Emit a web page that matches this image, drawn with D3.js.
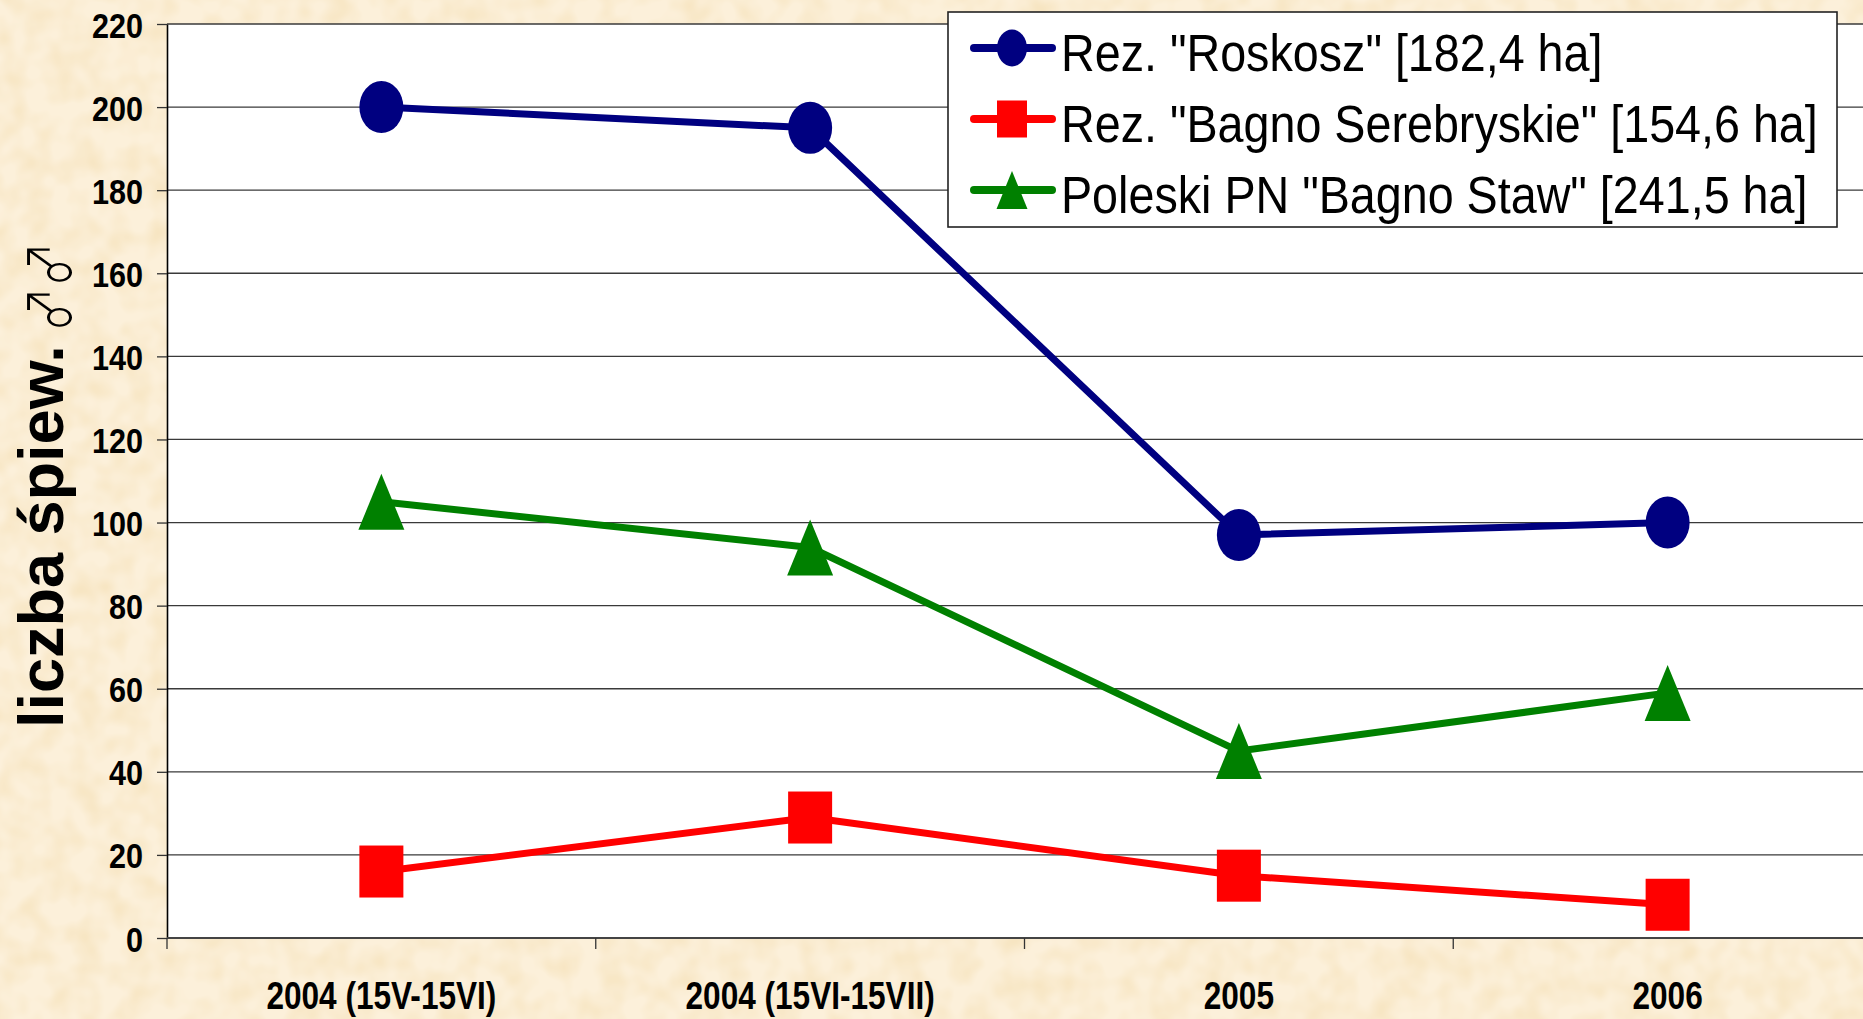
<!DOCTYPE html>
<html lang="pl">
<head>
<meta charset="UTF-8">
<title>Liczba śpiewających samców</title>
<script src="https://d3js.org/d3.v7.min.js"></script>
<style>
  html, body { margin: 0; padding: 0; background: #fbedd3; }
  svg { display: block; }
  text { font-family: "Liberation Sans", Arial, sans-serif; }
</style>
</head>
<body>
<svg width="1863" height="1019"></svg>
<script>
// dane
const categories = ["2004 (15V-15VI)", "2004 (15VI-15VII)", "2005", "2006"];
const seriesNames = [
  'Rez. "Roskosz" [182,4 ha]',
  'Rez. "Bagno Serebryskie" [154,6 ha]',
  'Poleski PN "Bagno Staw" [241,5 ha]'
];
const roskosz = [200, 195, 97, 100];
const serebryskie = [16, 29, 15, 8];
const bagnoStaw = [105, 94, 45, 59];
const yTicks = [0, 20, 40, 60, 80, 100, 120, 140, 160, 180, 200, 220];
const yLabel = "liczba śpiew.";
const maleSign = "♂♂";

const series = [
  { name: seriesNames[0], values: roskosz, color: "#000080", shape: "ellipse" },
  { name: seriesNames[1], values: serebryskie, color: "#ff0000", shape: "square" },
  { name: seriesNames[2], values: bagnoStaw, color: "#008000", shape: "triangle" }
];

const svg = d3.select("svg");
const W = 1863, H = 1019;
const pLeft = 167, pTop = 24, pBottom = 938, pRight = 1882;

// tło w stylu papieru
const defs = svg.append("defs");
const f = defs.append("filter").attr("id", "paper")
  .attr("x", 0).attr("y", 0).attr("width", "100%").attr("height", "100%")
  .attr("color-interpolation-filters", "sRGB");
f.append("feTurbulence").attr("type", "fractalNoise")
  .attr("baseFrequency", "0.04").attr("numOctaves", 2).attr("seed", 7);
f.append("feColorMatrix").attr("type", "matrix")
  .attr("values", "0 0 0 0 0.96  0 0 0 0 0.88  0 0 0 0 0.72  0 0 0 1.3 -0.45");
svg.append("rect").attr("width", W).attr("height", H).attr("fill", "#fcf0da");
svg.append("rect").attr("width", W).attr("height", H).attr("filter", "url(#paper)");

const x = d3.scaleBand().domain(categories).range([pLeft, pRight]);
const y = d3.scaleLinear().domain([0, 220]).range([pBottom, pTop]);
const cx = c => x(c) + x.bandwidth() / 2;

// obszar wykresu
svg.append("rect").attr("x", pLeft).attr("y", pTop)
  .attr("width", pRight - pLeft).attr("height", pBottom - pTop).attr("fill", "#fff");

svg.append("g").selectAll("line").data(yTicks.filter(d => d > 0)).join("line")
  .attr("x1", pLeft).attr("x2", pRight)
  .attr("y1", d => y(d)).attr("y2", d => y(d))
  .attr("stroke", "#3a3a3a").attr("stroke-width", 1.3);

// oś Y
const yAxis = svg.append("g").attr("transform", `translate(${pLeft},0)`)
  .call(d3.axisLeft(y).tickValues(yTicks).tickSize(10).tickSizeOuter(0));
yAxis.select(".domain").attr("stroke", "#000").attr("stroke-width", 1.6);
yAxis.selectAll(".tick line").attr("stroke", "#333").attr("stroke-width", 1.3);
yAxis.selectAll(".tick text")
  .attr("x", null).attr("dy", null).attr("y", 13)
  .attr("transform", "translate(-24,0) scale(0.85,1)")
  .attr("text-anchor", "end")
  .style("font-family", "'Liberation Sans', Arial, sans-serif")
  .style("font-size", "36px").style("font-weight", "bold").attr("fill", "#000");

// oś X
svg.append("line").attr("x1", pLeft).attr("x2", pRight)
  .attr("y1", pBottom).attr("y2", pBottom)
  .attr("stroke", "#444").attr("stroke-width", 2);
svg.append("g").selectAll("line").data(categories).join("line")
  .attr("x1", d => x(d)).attr("x2", d => x(d))
  .attr("y1", pBottom).attr("y2", pBottom + 11)
  .attr("stroke", "#333").attr("stroke-width", 1.3);
svg.append("g").selectAll("text").data(categories).join("text")
  .attr("transform", d => `translate(${cx(d)},1009) scale(0.81,1)`)
  .attr("text-anchor", "middle")
  .style("font-size", "39px").style("font-weight", "bold")
  .text(d => d);

// tytuł osi Y
const yl = svg.append("g").attr("transform", "translate(63,728) rotate(-90)");
yl.append("text").attr("x", 0).attr("y", 0)
  .style("font-size", "63px").style("font-weight", "bold")
  .text(yLabel);
yl.append("text")
  .attr("transform", "translate(486,9) scale(0.75,1)")
  .attr("text-anchor", "end")
  .style("font-family", "'Noto Sans CJK JP', 'DejaVu Sans', sans-serif")
  .style("font-size", "60px").style("font-weight", "300")
  .text(maleSign);

// znaczniki
function marker(sel, shape, color, w, h) {
  if (shape === "ellipse") {
    sel.append("ellipse").attr("rx", w / 2).attr("ry", h / 2).attr("fill", color);
  } else if (shape === "square") {
    sel.append("rect").attr("x", -w / 2).attr("y", -h / 2)
      .attr("width", w).attr("height", h).attr("fill", color);
  } else {
    sel.append("path")
      .attr("d", `M0,${-h / 2}L${w / 2},${h / 2}L${-w / 2},${h / 2}Z`)
      .attr("fill", color);
  }
}

const line = d3.line().x((d, i) => cx(categories[i])).y(d => y(d));

series.forEach(s => {
  const g = svg.append("g");
  g.append("path").attr("d", line(s.values))
    .attr("fill", "none").attr("stroke", s.color)
    .attr("stroke-width", 7).attr("stroke-linejoin", "round");
  s.values.forEach((v, i) => {
    const m = g.append("g").attr("transform", `translate(${cx(categories[i])},${y(v)})`);
    if (s.shape === "triangle") marker(m, s.shape, s.color, 46, 56);
    else marker(m, s.shape, s.color, 44, 52);
  });
});

// legenda
const lg = svg.append("g");
lg.append("rect").attr("x", 948).attr("y", 12).attr("width", 889).attr("height", 215)
  .attr("fill", "#fff").attr("stroke", "#222").attr("stroke-width", 1.6);
series.forEach((s, i) => {
  const ry = 48 + i * 71;
  lg.append("line").attr("x1", 974).attr("x2", 1052).attr("y1", ry).attr("y2", ry)
    .attr("stroke", s.color).attr("stroke-width", 8).attr("stroke-linecap", "round");
  const m = lg.append("g").attr("transform", `translate(1012,${ry})`);
  if (s.shape === "triangle") marker(m, s.shape, s.color, 31, 38);
  else marker(m, s.shape, s.color, 30, 37);
  lg.append("text")
    .attr("transform", `translate(1061,${ry + 23}) scale(0.915,1)`)
    .style("font-size", "51px")
    .text(s.name);
});
</script>
</body>
</html>
